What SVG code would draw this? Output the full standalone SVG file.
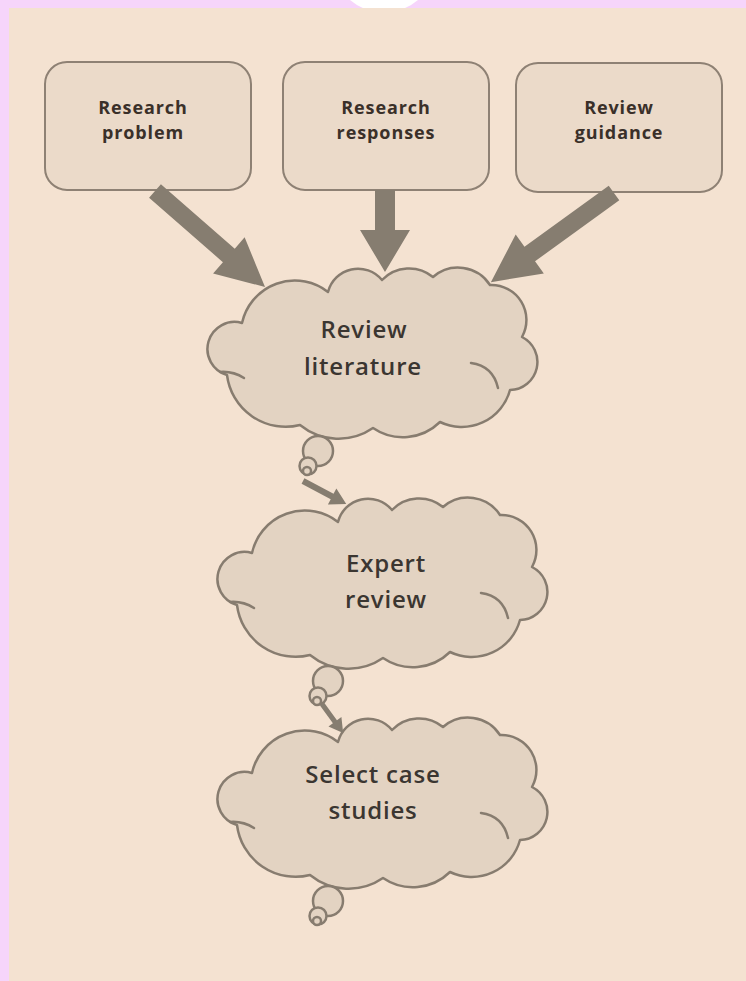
<svg xmlns="http://www.w3.org/2000/svg" xmlns:xlink="http://www.w3.org/1999/xlink" width="746" height="981" viewBox="0 0 746 981">
  <style>
    .box { fill: #ebdac9; stroke: #8e8174; stroke-width: 2; }
    .box-label { font-family: "Open Sans", "Liberation Sans", sans-serif; font-weight: 700; font-size: 18px; letter-spacing: 0.9px; fill: #3a3029; text-anchor: middle; }
    .cloud-shape { fill: #e3d3c2; stroke: #877c6f; stroke-width: 2.5; stroke-linejoin: round; }
    .cloud-line { fill: none; stroke: #877c6f; stroke-width: 2.5; stroke-linecap: round; }
    .cloud-label { font-family: "Open Sans", "Liberation Sans", sans-serif; font-weight: 600; font-size: 24px; letter-spacing: 0.8px; fill: #3b3631; text-anchor: middle; }
    .arrow { fill: #867d70; }
  </style>
  <defs>
    <!-- thought cloud with its tail bubbles, local frame about 332 x 210 -->
    <g id="cloud">
      <path class="cloud-shape" d="M 34,55 A 54 54 0 0 1 120,24 A 31 31 0 0 1 174,12 A 37.5 37.5 0 0 1 225,9 A 38 38 0 0 1 282,17 A 35 35 0 0 1 314,69 A 28 28 0 0 1 302,122 A 50 50 0 0 1 232,154 A 53 53 0 0 1 165,160 A 61 61 0 0 1 92,157 A 59 59 0 0 1 19,107 A 27 27 0 0 1 34,55 Z"/>
      <path class="cloud-line" d="M 12,104 Q 25,103 36,110"/>
      <path class="cloud-line" d="M 263,95 Q 285,98 290,120"/>
      <circle class="cloud-shape" cx="110" cy="183" r="15"/>
      <circle class="cloud-shape" cx="100" cy="198" r="8.5"/>
      <circle class="cloud-shape" cx="99" cy="203" r="4"/>
    </g>
  </defs>

  <!-- page frame -->
  <rect x="0" y="0" width="746" height="981" fill="#f6d5fb"/>
  <circle cx="384" cy="-40" r="52.5" fill="#ffffff"/>
  <rect x="9" y="8" width="737" height="973" fill="#f4e2d1"/>

  <!-- input boxes -->
  <g id="research-problem">
    <rect class="box" x="45" y="62" width="206" height="128" rx="22"/>
    <text class="box-label" x="143" y="114">Research</text>
    <text class="box-label" x="143" y="139">problem</text>
  </g>
  <g id="research-responses">
    <rect class="box" x="283" y="62" width="206" height="128" rx="22"/>
    <text class="box-label" x="386" y="114">Research</text>
    <text class="box-label" x="386" y="139">responses</text>
  </g>
  <g id="review-guidance">
    <rect class="box" x="516" y="63" width="206" height="129" rx="22"/>
    <text class="box-label" x="619" y="114">Review</text>
    <text class="box-label" x="619" y="139">guidance</text>
  </g>

  <!-- process clouds -->
  <g id="review-literature">
    <use xlink:href="#cloud" href="#cloud" transform="translate(208,268)"/>
    <text class="cloud-label" x="364" y="338">Review</text>
    <text class="cloud-label" x="363" y="375">literature</text>
  </g>
  <g id="expert-review">
    <use xlink:href="#cloud" href="#cloud" transform="translate(218,498)"/>
    <text class="cloud-label" x="386" y="572">Expert</text>
    <text class="cloud-label" x="386" y="608">review</text>
  </g>
  <g id="select-case-studies">
    <use xlink:href="#cloud" href="#cloud" transform="translate(218,718)"/>
    <text class="cloud-label" x="373" y="783">Select case</text>
    <text class="cloud-label" x="373" y="819">studies</text>
  </g>

  <!-- connectors -->
  <g id="connectors">
    <polygon class="arrow" points="0,-9 98,-9 98,-24 146,0 98,24 98,9 0,9" transform="translate(155,191) rotate(41.1)"/>
    <polygon class="arrow" points="0,-10 40,-10 40,-25 82,0 40,25 40,10 0,10" transform="translate(385,190) rotate(90)"/>
    <polygon class="arrow" points="0,-9 104,-9 104,-24 152,0 104,24 104,9 0,9" transform="translate(614,193) rotate(144.1)"/>
    <polygon class="arrow" points="0,-3 33,-3 33,-9 49,0 33,9 33,3 0,3" transform="translate(303,481) rotate(28)"/>
    <polygon class="arrow" points="0,-2.5 22,-2.5 22,-8 36,0 22,8 22,2.5 0,2.5" transform="translate(322,704) rotate(54)"/>
  </g>
</svg>
